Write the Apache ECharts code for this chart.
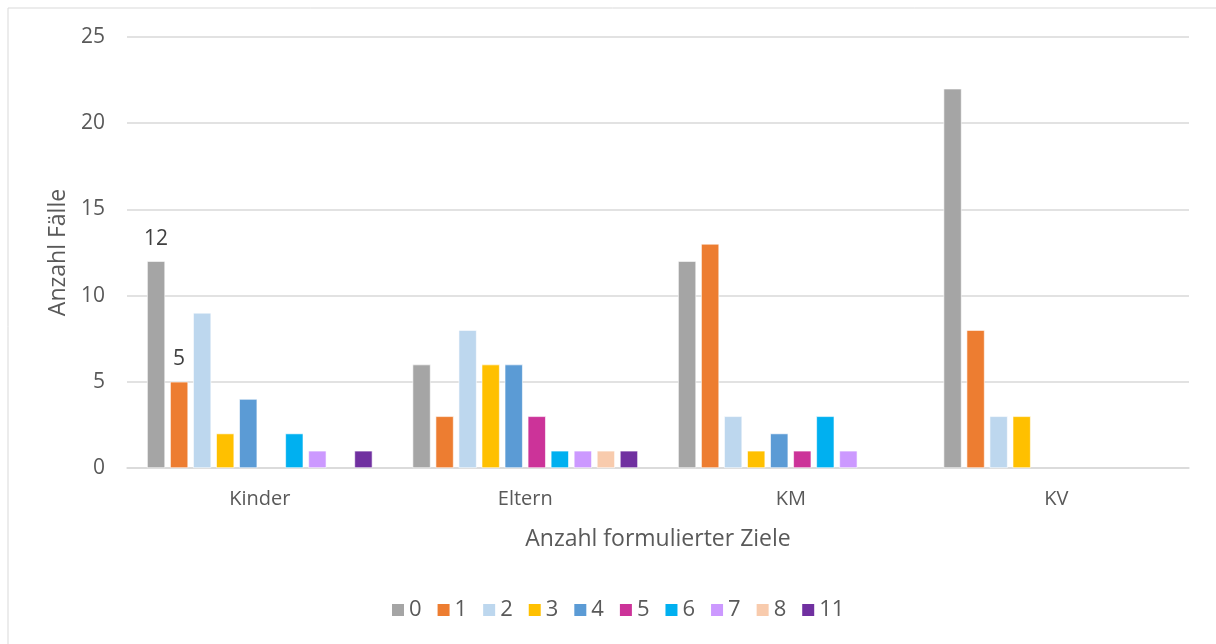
<!DOCTYPE html>
<html>
<head>
<meta charset="utf-8">
<script src="https://cdn.jsdelivr.net/npm/echarts@6/dist/echarts.min.js"></script>
<style>
  html, body { margin: 0; padding: 0; background: #fff; }
  #chart { width: 1216px; height: 644px; }
</style>
</head>
<body>
<div id="chart"></div>
<script>
// Gruppen (x-Achse)
const categories = ['Kinder', 'Eltern', 'KM', 'KV'];
// Anzahl formulierter Ziele (Legende)
const seriesNames = ['0', '1', '2', '3', '4', '5', '6', '7', '8', '11'];
// Anzahl Fälle je Gruppe, eine Liste pro Zielanzahl
const values0  = [12, 6, 12, 22];
const values1  = [5, 3, 13, 8];
const values2  = [9, 8, 3, 3];
const values3  = [2, 6, 1, 3];
const values4  = [4, 6, 2, 0];
const values5  = [0, 3, 1, 0];
const values6  = [2, 1, 3, 0];
const values7  = [1, 1, 1, 0];
const values8  = [0, 1, 0, 0];
const values11 = [1, 1, 0, 0];
const yTicks = [0, 5, 10, 15, 20, 25];

const allValues = [values0, values1, values2, values3, values4, values5, values6, values7, values8, values11];
const colors = ['#A5A5A5', '#ED7D31', '#BDD7EE', '#FFC000', '#5B9BD5', '#CC3399', '#00B0F0', '#CC99FF', '#F8CBAD', '#7030A0'];
// Werte, die über den Balken beschriftet sind: [Serie, Gruppe]
const labelled = [[0, 0], [1, 0]];

const FONT = '"Open Sans", "Liberation Sans", sans-serif';
const TXT = '#595959';

const series = allValues.map((vals, si) => ({
  name: seriesNames[si],
  type: 'bar',
  barWidth: 18,
  barGap: '28%',
  itemStyle: { color: colors[si], borderColor: '#ffffff', borderWidth: 0.6 },
  data: vals.map((v, ci) => {
    const d = { value: v === 0 ? null : v };
    if (labelled.some(p => p[0] === si && p[1] === ci)) {
      d.label = { show: true, position: 'top', distance: 12, color: '#404040', fontSize: 21, fontFamily: FONT };
    }
    return d;
  })
}));

const chart = echarts.init(document.getElementById('chart'), null, { renderer: 'canvas' });
chart.setOption({
  animation: false,
  backgroundColor: '#ffffff',
  color: colors,
  graphic: [{
    type: 'rect',
    shape: { x: 8, y: 8, width: 1230, height: 660 },
    style: { fill: 'none', stroke: '#d9d9d9', lineWidth: 1 },
    z: -1
  }],
  grid: { left: 127, right: 27, top: 37, bottom: 176 },
  legend: {
    bottom: 18,
    left: 385,
    data: seriesNames,
    icon: 'rect',
    itemWidth: 14,
    itemHeight: 14,
    itemGap: 14,
    textStyle: { color: TXT, fontSize: 22, fontFamily: FONT, padding: [0, 0, 0, -1] }
  },
  xAxis: {
    type: 'category',
    data: categories,
    name: 'Anzahl formulierter Ziele',
    nameLocation: 'middle',
    nameGap: 60,
    nameTextStyle: { color: TXT, fontSize: 23, fontFamily: FONT },
    axisLine: { lineStyle: { color: '#d9d9d9', width: 1.5 } },
    axisTick: { show: false },
    axisLabel: { color: TXT, fontSize: 20, fontFamily: FONT, margin: 21 }
  },
  yAxis: {
    type: 'value',
    min: yTicks[0],
    max: yTicks[yTicks.length - 1],
    interval: 5,
    name: 'Anzahl Fälle',
    nameLocation: 'middle',
    nameGap: 55,
    nameTextStyle: { color: TXT, fontSize: 23, fontFamily: FONT },
    axisLine: { show: false },
    axisTick: { show: false },
    splitLine: { lineStyle: { color: '#d9d9d9', width: 1.5 } },
    axisLabel: { color: TXT, fontSize: 21, fontFamily: FONT, margin: 22 }
  },
  series: series
});
</script>
</body>
</html>
